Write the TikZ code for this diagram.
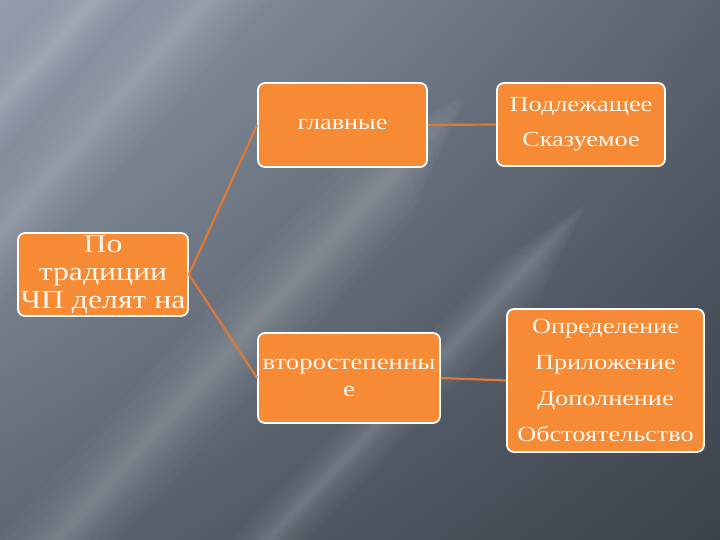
\documentclass[tikz,border=0pt]{standalone}
\usepackage{fontspec}
\usetikzlibrary{shadings}
\setmainfont[FakeStretch=1.22]{Liberation Serif}
\definecolor{boxorange}{HTML}{F68A35}
\definecolor{lineorange}{HTML}{DE7838}
\definecolor{bgA}{HTML}{939DAC}
\definecolor{bgB}{HTML}{5A636E}
\definecolor{bgC}{HTML}{5E6772}
\definecolor{bgD}{HTML}{3A424B}
\definecolor{txt}{HTML}{FFF9F2}
\begin{document}
\begin{tikzpicture}[x=1pt,y=-1pt,
  cbox/.style={draw=white, line width=1.8pt, fill=boxorange, rounded corners=7pt,
    text=txt, align=center, inner sep=0pt, font=\fontsize{21.5}{35}\selectfont},
  conn/.style={draw=lineorange, line width=2.2pt},
  streak/.style={white, opacity=0.022, line cap=round}]
\useasboundingbox (0,0) rectangle (720,540);
\shade[upper left=bgA, upper right=bgB, lower left=bgC, lower right=bgD] (0,0) rectangle (720,540);
% soft light streaks of the background
\foreach \w in {90,75,60,48,38,30,22,15,9} {
  \draw[streak, line width=\w] (260,-60) -- (-60,300);
  \draw[streak, line width=\w] ({470-1.1*\w},{90+1.2*\w}) -- (20,580);
  \draw[streak, line width=0.7*\w] (150,-60) -- (-60,170);
  \draw[streak, line width=0.6*\w] ({590-0.8*\w},{200+0.9*\w}) -- (230,580);
}
\node[cbox, minimum width=170, minimum height=83, font=\fontsize{26}{28}\selectfont] (L) at (103,274.5) {По\\традиции\\ЧП делят на};
\node[cbox, minimum width=169, minimum height=84] (G) at (342.5,125) {главные};
\node[cbox, minimum width=168, minimum height=83] (P) at (581,124.5) {Подлежащее\\Сказуемое};
\node[cbox, minimum width=182, minimum height=90, font=\fontsize{22}{27}\selectfont] (V) at (349,378) {второстепенны\\е};
\node[cbox, minimum width=197, minimum height=143, font=\fontsize{21.5}{36}\selectfont] (R) at (605.5,380.5) {Определение\\Приложение\\Дополнение\\Обстоятельство};
\draw[conn] (L.east) -- (G.west);
\draw[conn] (L.east) -- (V.west);
\draw[conn] (G.east) -- (P.west);
\draw[conn] (V.east) -- (R.west);
\end{tikzpicture}
\end{document}
